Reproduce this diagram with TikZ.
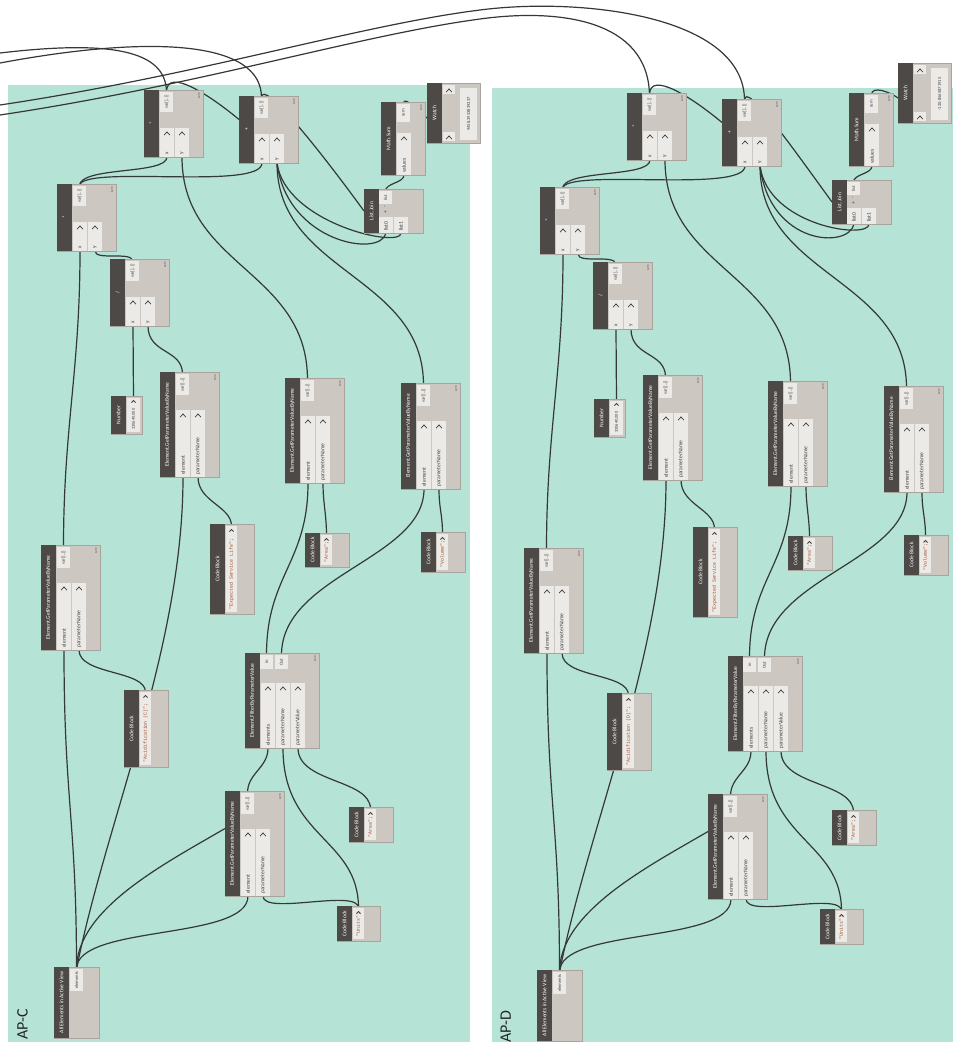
\documentclass[tikz,border=0pt]{standalone}
\usepackage{fontspec}
\setmainfont{Carlito}
\newfontfamily\codefont{Liberation Mono}
\usetikzlibrary{calc}
\pgfdeclarelayer{panelL}
\pgfdeclarelayer{wireL}
\pgfsetlayers{panelL,wireL,main}
\definecolor{panelc}{HTML}{B5E3D5}
\definecolor{nfill}{HTML}{CCC7C1}
\definecolor{nborder}{HTML}{A8A39D}
\definecolor{dband}{HTML}{4D4946}
\definecolor{pfill}{HTML}{ECEAE7}
\definecolor{wirec}{HTML}{343836}
\definecolor{ptextc}{HTML}{454545}
\definecolor{codec}{HTML}{A0522D}
\tikzset{
 wire/.style={draw=wirec, line width=1.2pt},
 nbody/.style={draw=nborder, fill=nfill, line width=0.6pt, inner sep=0pt, outer sep=0pt, anchor=north west},
 pbox/.style={fill=pfill, draw=none, inner sep=0pt, outer sep=0pt, anchor=north west},
 ttl/.style={text=white, font=\fontsize{5.6}{6}\selectfont, rotate=90, inner sep=0pt},
 ptxt/.style={text=ptextc, font=\fontsize{5.6}{6}\selectfont, rotate=90, inner sep=0pt},
 otxt/.style={text=ptextc, font=\fontsize{4.6}{5}\selectfont, rotate=90, inner sep=0pt},
 ntxt/.style={text=ptextc, font=\fontsize{4.4}{5}\selectfont, rotate=90, inner sep=0pt},
 ctxt/.style={text=codec, font=\codefont\fontsize{4.9}{5}\selectfont, rotate=90, inner sep=0pt},
 autot/.style={text=black!80, font=\fontsize{2.4}{3}\selectfont, rotate=90, inner sep=0pt},
 chev/.style={draw=ptextc, line width=0.8pt},
 aplab/.style={text=black!85, font=\fontsize{16}{16}\selectfont, rotate=90, inner sep=0pt, anchor=south west},
}
\newcommand\dyNode[6]{%
 \node[nbody, minimum width=#4pt, minimum height=#5pt] (#1) at (#2,#3) {};
 \fill[dband] (#1.north west) rectangle ([xshift=15pt]#1.south west);
 \node[ttl] (#1-t) at ([xshift=7.5pt]#1.west) {#6};}
\newcommand\dyAuto[1]{\node[autot, anchor=east] (#1-auto) at ([xshift=-4pt,yshift=-3pt]#1.north east) {AUTO};}
\newcommand\dyOut[5]{%
 \node[pbox, minimum width=13pt, minimum height=#4pt] (#1) at (#2,#3) {};
 \node[otxt] (#1-t) at (#1.center) {#5};}
\newcommand\dyInBox[5]{%
 \node[pbox, minimum width=14pt, minimum height={((#4)-(#3))*1pt}] (#1) at (#2,#3) {};
 \node[ptxt, anchor=west] (#1-t) at ([yshift=2pt]#1.south) {#5};}
\newcommand\dyChev[1]{\draw[chev] ([xshift=-2.8pt,yshift=-7pt]#1.north) -- ([yshift=-4pt]#1.north) -- ([xshift=2.8pt,yshift=-7pt]#1.north);}
\newcommand\dyIn[5]{\dyInBox{#1}{#2}{#3}{#4}{#5}\dyChev{#1}}
\newcommand\dyGet[4]{%
 \dyNode{#1}{#2}{#3}{59}{#4}{Element.GetParameterValueByName}\dyAuto{#1}
 \dyOut{#1-out}{#2+16}{#3+2}{21}{var[]..[]}
 \dyIn{#1-e}{#2+16}{#3+38}{#3+#4}{element}
 \dyIn{#1-p}{#2+31}{#3+38}{#3+#4}{parameterName}}
\newcommand\dyArith[4]{%
 \dyNode{#1}{#2}{#3}{59}{67}{#4}\dyAuto{#1}
 \dyOut{#1-out}{#2+16}{#3+2}{20}{var[]..[]}
 \dyIn{#1-x}{#2+16}{#3+38}{#3+67}{x}
 \dyIn{#1-y}{#2+31}{#3+38}{#3+67}{y}}
\newcommand\dyCode[6]{%
 \dyNode{#1}{#2}{#3}{#4}{#5}{Code Block}
 \node[pbox, minimum width=11pt, minimum height={((#5)-4)*1pt}] (#1-out) at (#2+16,#3+2) {};
 \draw[chev] ([xshift=-2pt,yshift=-5.5pt]#1-out.north) -- ([yshift=-3.5pt]#1-out.north) -- ([xshift=2pt,yshift=-5.5pt]#1-out.north);
 \node[ctxt, anchor=west] (#1-code) at ([yshift=2.5pt]#1-out.south) {#6};}
\newcommand\dyNum[4]{%
 \dyNode{#1}{#2}{#3}{31}{38}{Number}
 \node[pbox, minimum width=13pt, minimum height=34pt] (#1-out) at (#2+16,#3+2) {};
 \draw[chev] ([xshift=-2pt,yshift=-4.5pt]#1-out.north) -- ([yshift=-2.5pt]#1-out.north) -- ([xshift=2pt,yshift=-4.5pt]#1-out.north);
 \node[ntxt, anchor=west] (#1-val) at ([yshift=2pt]#1-out.south) {#4};}
\newcommand\dynpanel[8]{%
 \dyArith{#1a1}{144}{90}{*}
 \dyArith{#1a2}{239}{96}{+}
 \dyArith{#1a3}{57}{184}{*}
 \dyArith{#1dv}{110}{259}{/}
 \dyNum{#1num}{111}{396}{330640.000}
 \dyGet{#1g1}{160}{372}{105}
 \dyGet{#1g2}{285}{378}{105}
 \dyGet{#1g3}{401}{383}{106}
 \dyGet{#1g4}{41}{545}{105}
 \dyGet{#1g5}{225}{791}{105}
 \dyCode{#1cb1}{210}{524}{44}{90}{"Expected Service Life";}
 \dyCode{#1cb2}{305}{533}{44}{34}{"Area";}
 \dyCode{#1cb3}{421}{532}{44}{40}{"Volume";}
 \dyCode{#1cb4}{124}{690}{44}{77}{"Acidification (#8)";}
 \dyCode{#1cb5}{349}{807}{44}{35}{"Area";}
 \dyCode{#1cb6}{337}{906}{43}{35}{"Units";}
 \dyNode{#1fp}{245}{653}{74}{95}{Element.FilterByParameterValue}\dyAuto{#1fp}
 \dyOut{#1fp-in}{260}{655}{14}{in}
 \dyOut{#1fp-out}{275}{655}{14}{Out}
 \dyIn{#1fp-e}{261}{683}{748}{elements}
 \dyIn{#1fp-n}{276}{683}{748}{parameterName}
 \dyIn{#1fp-v}{291}{683}{748}{parameterValue}
 \dyNode{#1all}{54}{967}{45}{71}{All Elements in Active View}
 \dyOut{#1all-out}{70}{969}{22}{elements}
 \begin{scope}[shift={(#2,#3)}]
  \dyNode{#1ms}{381}{102}{44}{73}{Math.Sum}\dyAuto{#1ms}
  \dyOut{#1ms-out}{397}{104}{18}{sum}
  \dyIn{#1ms-v}{397}{133}{175}{values}
  \dyNode{#1lj}{364}{189}{59}{44}{List.Join}
  \dyOut{#1lj-out}{379}{191}{13}{list}
  \node[ptxt] (#1lj-m) at (385.5,207) {-};
  \node[ptxt] (#1lj-p) at (385.5,212) {+};
  \dyInBox{#1lj-l0}{379}{217}{233}{list0}
  \dyInBox{#1lj-l1}{394}{217}{233}{list1}
 \end{scope}
 \begin{scope}[shift={(#4,#5)}]
  \dyNode{#1w}{427}{83}{53}{60}{Watch}
  \node[pbox, minimum width=12pt, minimum height=9pt] (#1w-o) at (443,85) {};
  \dyChev{#1w-o}
  \node[pbox, minimum width=12pt, minimum height=9pt] (#1w-i) at (443,132) {};
  \dyChev{#1w-i}
  \node[pbox, minimum width=17pt, minimum height=52pt] (#1w-val) at (460,88) {};
  \node[otxt] (#1w-vt) at (#1w-val.center) {#6};
 \end{scope}
 \node[aplab] (#1lab) at (28,1040) {#7};
 \begin{pgfonlayer}{wireL}
  \draw[wire] (#1a3-out.north) .. controls +(0,-20) and +(0,18) .. (#1a1-x.south);
  \draw[wire] (#1a3-out.north) .. controls +(0,-22) and +(0,28) .. (#1a2-x.south);
  \draw[wire] (#1a3-x.south) .. controls +(0,120) and +(0,-120) .. (#1g4-out.north);
  \draw[wire] (#1a3-y.south) .. controls +(0,10) and +(0,-10) .. (#1dv-out.north);
  \draw[wire] (#1dv-x.south) -- (#1num-out.north);
  \draw[wire] (#1dv-y.south) .. controls +(0,28) and +(0,-25) .. (#1g1-out.north);
  \draw[wire] (#1a1-y.south) .. controls +(0,110) and +(0,-110) .. (#1g2-out.north);
  \draw[wire] (#1a2-y.south) .. controls +(0,110) and +(0,-110) .. (#1g3-out.north);
  \draw[wire] (#1a2-y.south) .. controls +(10,80) and +(-5,25) .. (#1lj-l0.south);
  \draw[wire] (#1lj-l1.south) .. controls +(0,16) and +(8,60) .. (#1a2-y.south);
  \draw[wire] (#1a2-out.north) .. controls +(0,-22) and +(-40,-55) .. (#1lj.west);
  \draw[wire] (#1a1-out.north) .. controls +(0,-25) and +(-30,-25) .. ([yshift=10pt]#1a2.west);
  \draw[wire] (#1ms-out.north) .. controls +(0,-10) and +(-8,-6) .. ([yshift=-5pt]#1w.west);
  \draw[wire] (#1lj-out.north) .. controls +(0,-8) and +(0,8) .. (#1ms-v.south);
  \draw[wire] (#1g1-e.south) .. controls +(0,170) and +(30,-150) .. (#1all-out.north);
  \draw[wire] (#1g4-p.south) .. controls +(0,25) and +(0,-22) .. (#1cb4-out.north);
  \draw[wire] (#1g4-e.south) .. controls +(0,150) and +(0,-150) .. (#1all-out.north);
  \draw[wire] (#1g1-p.south) .. controls +(0,25) and +(0,-20) .. (#1cb1-out.north);
  \draw[wire] (#1g2-e.south) .. controls +(0,80) and +(0,-80) .. (#1fp-in.north);
  \draw[wire] (#1g2-p.south) .. controls +(0,20) and +(0,-20) .. (#1cb2-out.north);
  \draw[wire] (#1g3-e.south) .. controls +(0,70) and +(0,-80) .. (#1fp-out.north);
  \draw[wire] (#1g3-p.south) .. controls +(0,20) and +(0,-20) .. (#1cb3-out.north);
  \draw[wire] (#1fp-e.south) .. controls +(0,20) and +(0,-20) .. (#1g5-out.north);
  \draw[wire] (#1fp-n.south) .. controls +(0,90) and +(0,-70) .. (#1cb6-out.north);
  \draw[wire] (#1fp-v.south) .. controls +(0,35) and +(0,-30) .. (#1cb5-out.north);
  \draw[wire] (#1all-out.north) .. controls +(0,-60) and +(-60,35) .. ([yshift=15pt]#1g5.west);
  \draw[wire] (#1all-out.north) .. controls +(0,-45) and +(0,45) .. (#1g5-e.south);
  \draw[wire] (#1g5-p.south) .. controls +(0,20) and +(0,-20) .. (#1cb6-out.north);
 \end{pgfonlayer}}
\begin{document}
\begin{tikzpicture}[x=1pt,y=-1pt]
\useasboundingbox (0,0) rectangle (953,1050);
\begin{pgfonlayer}{panelL}
 \fill[white] (0,0) rectangle (953,1050);
 \fill[panelc] (8,85) rectangle (470,1042);
 \fill[panelc] (492,88) rectangle (953,1042);
\end{pgfonlayer}
\dynpanel{L}{0}{0}{0}{0}{9458.3933839337}{AP-C}{C}
\begin{scope}[shift={(483,3)}]
\dynpanel{R}{-15}{-12}{-12}{-23}{-120.8565871915}{AP-D}{D}
\end{scope}
\coordinate (ea) at (0,53);
\coordinate (eb) at (0,63);
\coordinate (ec) at (0,105);
\coordinate (ed) at (0,115);
\begin{pgfonlayer}{wireL}
 \draw[wire] (ea) .. controls (110,40) and (166,50) .. (La1-out.north);
 \draw[wire] (eb) .. controls (150,35) and (262,40) .. (La2-out.north);
 \draw[wire] (ec) .. controls (200,75) and (360,25) .. (480,10) .. controls (580,-3) and (745,15) .. (Ra2-out.north);
 \draw[wire] (ed) .. controls (200,85) and (360,35) .. (480,19) .. controls (560,8) and (648,20) .. (Ra1-out.north);
\end{pgfonlayer}
\end{tikzpicture}
\end{document}
